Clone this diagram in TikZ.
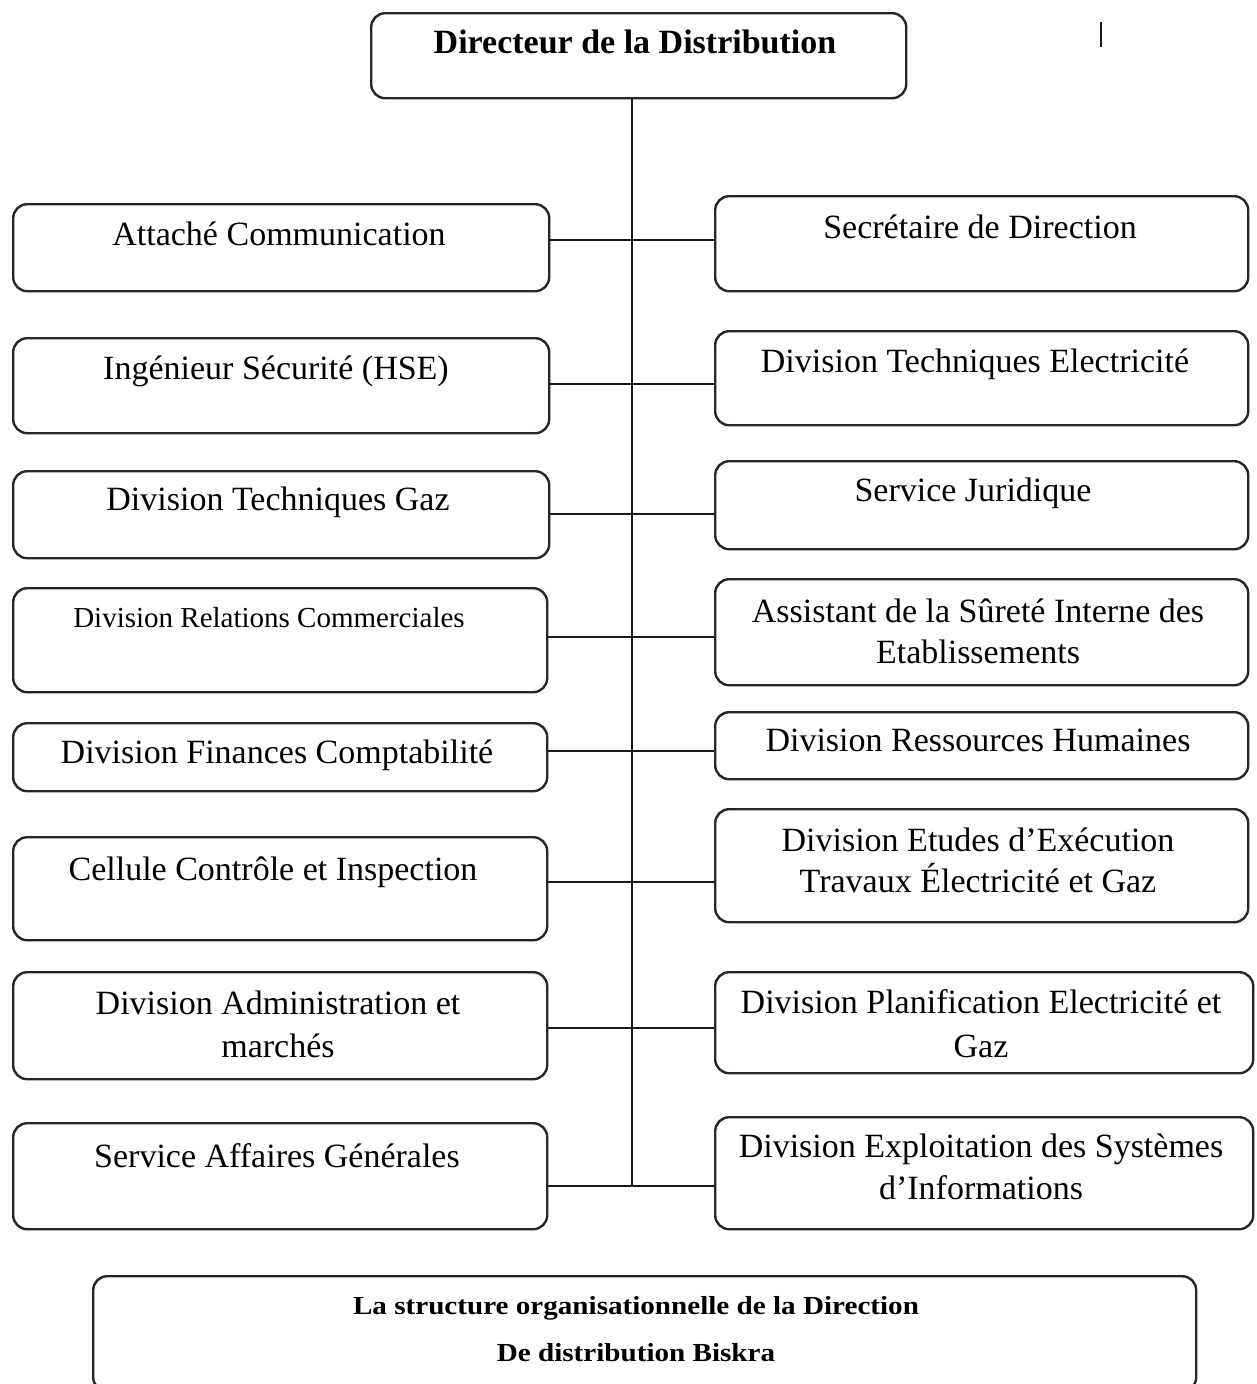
\documentclass[tikz,border=0pt]{standalone}
\usepackage{fontspec}
\setmainfont{Liberation Serif}
\newfontfamily\capfont[FakeStretch=1.12]{Liberation Serif}
\usetikzlibrary{calc}

\begin{document}
\begin{tikzpicture}[x=1pt,y=-1pt,
  box/.style={draw=black!85, line width=2.4pt, rounded corners=14pt, inner sep=0pt, anchor=north west},
  wire/.style={draw=black!90, line width=2.4pt},
  lbl/.style={font=\fontsize{34}{43}\selectfont, inner sep=0pt, align=center, anchor=base},
  smalllbl/.style={lbl, font=\fontsize{29}{36}\selectfont},
  headlbl/.style={lbl, font=\fontsize{34}{43}\selectfont\bfseries},
  caplbl/.style={lbl, font=\fontsize{26}{47}\selectfont\capfont\bfseries},
]
\useasboundingbox (0,0) rectangle (1257,1384);

% director
\node[box, minimum width=535pt, minimum height=85pt] (top) at (370,12) {};
\node[headlbl] (ttop) at (635,53) {Directeur de la Distribution};

% small vertical stroke at the top right
\coordinate (m1) at (1101,22);
\coordinate (m2) at (1101,47);
\draw[wire, line width=2.6pt] (m1) -- (m2);

% left column
\node[box, minimum width=536pt, minimum height=87pt]  (L1) at (12,203) {};
\node[box, minimum width=536pt, minimum height=95pt]  (L2) at (12,337) {};
\node[box, minimum width=536pt, minimum height=87pt]  (L3) at (12,470) {};
\node[box, minimum width=534pt, minimum height=104pt] (L4) at (12,587) {};
\node[box, minimum width=534pt, minimum height=68pt]  (L5) at (12,722) {};
\node[box, minimum width=534pt, minimum height=103pt] (L6) at (12,836) {};
\node[box, minimum width=534pt, minimum height=107pt] (L7) at (12,971) {};
\node[box, minimum width=534pt, minimum height=106pt] (L8) at (12,1122) {};

% single-line labels sit on their baseline; two-line labels on the baseline of their last line
\node[lbl] (tL1) at (279,245) {Attaché Communication};
\node[lbl] (tL2) at (276,379) {Ingénieur Sécurité (HSE)};
\node[lbl] (tL3) at (278,510) {Division Techniques Gaz};
\node[smalllbl] (tL4) at (269,627) {Division Relations Commerciales};
\node[lbl] (tL5) at (277,763) {Division Finances Comptabilité};
\node[lbl] (tL6) at (273,880) {Cellule Contrôle et Inspection};
\node[lbl] (tL7) at (278,1057) {Division Administration et\\marchés};
\node[lbl] (tL8) at (277,1167) {Service Affaires Générales};

% right column
\node[box, minimum width=533pt, minimum height=95pt]  (R1) at (714,195) {};
\node[box, minimum width=533pt, minimum height=94pt]  (R2) at (714,330) {};
\node[box, minimum width=533pt, minimum height=88pt]  (R3) at (714,460) {};
\node[box, minimum width=533pt, minimum height=106pt] (R4) at (714,578) {};
\node[box, minimum width=533pt, minimum height=67pt]  (R5) at (714,711) {};
\node[box, minimum width=533pt, minimum height=113pt] (R6) at (714,808) {};
\node[box, minimum width=538pt, minimum height=101pt] (R7) at (714,971) {};
\node[box, minimum width=538pt, minimum height=112pt] (R8) at (714,1116) {};

\node[lbl] (tR1) at (980,238) {Secrétaire de Direction};
\node[lbl] (tR2) at (975,372) {Division Techniques Electricité};
\node[lbl] (tR3) at (973,501) {Service Juridique};
\node[lbl, font=\fontsize{34}{41}\selectfont] (tR4) at (978,663) {Assistant de la Sûreté Interne des\\Etablissements};
\node[lbl] (tR5) at (978,751) {Division Ressources Humaines};
\node[lbl, font=\fontsize{34}{41}\selectfont] (tR6) at (978,892) {Division Etudes d’Exécution\\Travaux Électricité et Gaz};
\node[lbl, font=\fontsize{34}{44}\selectfont] (tR7) at (981,1057) {Division Planification Electricité et\\Gaz};
\node[lbl, font=\fontsize{34}{42}\selectfont] (tR8) at (981,1199) {Division Exploitation des Systèmes\\d’Informations};

% junctions on the trunk
\coordinate (j1) at (632,240);
\coordinate (j2) at (632,384);
\coordinate (j3) at (632,514);
\coordinate (j4) at (632,637);
\coordinate (j5) at (632,751);
\coordinate (j6) at (632,882);
\coordinate (j7) at (632,1028);
\coordinate (j8) at (632,1186);

\draw[wire] (j1 |- top.south) -- (j8);
\foreach \i in {1,...,8}{
  \draw[wire] (L\i.east |- j\i) -- (R\i.west |- j\i);
}

% caption box
\node[box, minimum width=1103pt, minimum height=115pt] (cap) at (92,1275) {};
\node[caplbl] (tcap) at (636,1361) {La structure organisationnelle de la Direction\\De distribution Biskra};
\end{tikzpicture}
\end{document}
